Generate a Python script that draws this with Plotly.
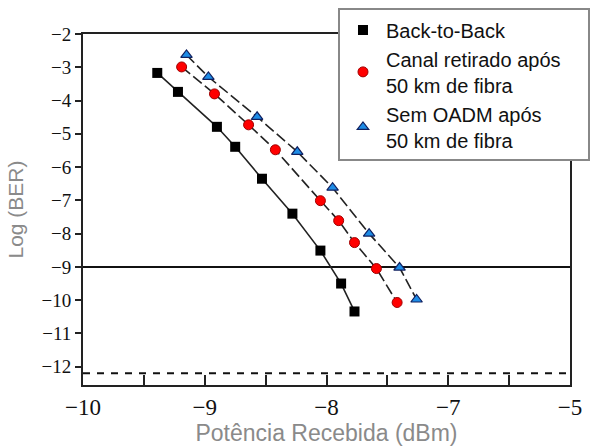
import plotly.graph_objects as go

# Data
b2b_x = [-9.39, -9.22, -8.90, -8.75, -8.53, -8.28, -8.05, -7.88, -7.77]
b2b_y = [-3.17, -3.74, -4.79, -5.39, -6.35, -7.40, -8.51, -9.50, -10.34]

canal_x = [-9.19, -8.92, -8.64, -8.42, -8.05, -7.90, -7.77, -7.59, -7.42]
canal_y = [-2.99, -3.80, -4.73, -5.48, -7.01, -7.61, -8.27, -9.05, -10.07]

sem_x = [-9.15, -8.97, -8.57, -8.24, -7.95, -7.65, -7.40, -7.26]
sem_y = [-2.63, -3.29, -4.49, -5.54, -6.62, -8.00, -9.02, -9.98]

names = ["Back-to-Back",
         "Canal retirado após\u00a0\u00a0\u00a0\u00a0<br>50 km de fibra",
         "Sem OADM após<br>50 km de fibra"]

x_tickvals = [-10, -9, -8, -7, -6]
x_ticktext = ["\u221210", "\u22129", "\u22128", "\u22127", "\u22125"]
y_tickvals = [-2, -3, -4, -5, -6, -7, -8, -9, -10, -11, -12]
y_ticktext = ["\u2212" + str(-v) for v in y_tickvals]

ber_ref = -9
floor_ref = -12.2
x_range = [-10, -6]
y_range = [-12.55, -2]

fig = go.Figure()

# reference lines
fig.add_trace(go.Scatter(x=x_range, y=[ber_ref, ber_ref], mode="lines",
                         line=dict(color="#111", width=2), showlegend=False, hoverinfo="skip"))
fig.add_trace(go.Scatter(x=x_range, y=[floor_ref, floor_ref], mode="lines",
                         line=dict(color="#111", width=2, dash="7px,7px"), showlegend=False, hoverinfo="skip"))

# series lines
fig.add_trace(go.Scatter(x=b2b_x, y=b2b_y, mode="lines",
                         line=dict(color="#222", width=1.6), showlegend=False))
fig.add_trace(go.Scatter(x=canal_x, y=canal_y, mode="lines",
                         line=dict(color="#222", width=1.6, dash="11px,4px"), showlegend=False))
fig.add_trace(go.Scatter(x=sem_x, y=sem_y, mode="lines",
                         line=dict(color="#222", width=1.6, dash="11px,4px"), showlegend=False))

# markers
fig.add_trace(go.Scatter(x=b2b_x, y=b2b_y, mode="markers", name=names[0],
                         marker=dict(symbol="square", size=10, color="#000")))
fig.add_trace(go.Scatter(x=canal_x, y=canal_y, mode="markers", name=names[1],
                         marker=dict(symbol="circle", size=10, color="#ff0000",
                                     line=dict(color="#a00000", width=1))))
fig.add_trace(go.Scatter(x=sem_x, y=sem_y, mode="markers", name=names[2],
                         marker=dict(symbol="triangle-up", size=10, color="#1e8ce6",
                                     line=dict(color="#102060", width=1.2))))

fig.update_layout(
    width=592, height=448,
    margin=dict(l=83, r=22, t=34, b=63, autoexpand=False),
    paper_bgcolor="white", plot_bgcolor="white",
    showlegend=True,
    legend=dict(x=0.5236, y=1.073, xanchor="left", yanchor="top",
                bgcolor="white", bordercolor="#888", borderwidth=2,
                font=dict(family="Liberation Sans, Arial", size=20, color="#111"),
                itemwidth=36, tracegroupgap=4),
    xaxis=dict(range=x_range, showgrid=False, zeroline=False, automargin=False,
               showline=True, linecolor="#222", linewidth=2, mirror=True,
               tickvals=[-10, -9.5, -9, -8.5, -8, -7.5, -7, -6.5, -6],
               ticktext=[x_ticktext[0], "", x_ticktext[1], "", x_ticktext[2], "", x_ticktext[3], "", x_ticktext[4]],
               ticks="inside", ticklen=10, tickwidth=2, tickcolor="#222",
               tickfont=dict(family="Liberation Serif, Times New Roman", size=23, color="#111"),
               title=dict(text="Potência Recebida (dBm)", standoff=6,
                          font=dict(family="Liberation Sans, Arial", size=23, color="#8a8a8a"))),
    yaxis=dict(range=y_range, showgrid=False, zeroline=False, automargin=False,
               showline=True, linecolor="#222", linewidth=2, mirror=True,
               tickvals=y_tickvals, ticktext=y_ticktext,
               ticks="outside", ticklen=6, tickwidth=2, tickcolor="#222",
               tickfont=dict(family="Liberation Serif, Times New Roman", size=19, color="#111"),
               title=dict(text="Log (BER)", standoff=12,
                          font=dict(family="Liberation Sans, Arial", size=21, color="#8a8a8a"))),
)

fig.write_html("out.html")
